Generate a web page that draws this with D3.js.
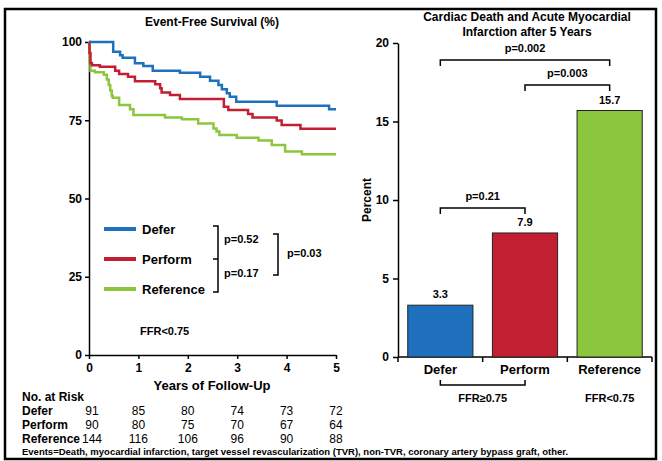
<!DOCTYPE html>
<html>
<head>
<meta charset="utf-8">
<script src="https://cdn.jsdelivr.net/npm/d3@7"></script>
<style>
  body { margin: 0; background: #fff; }
  svg { display: block; font-family: "Liberation Sans", Arial, sans-serif; }
  .axis path, .axis line { stroke: #000; stroke-width: 1.5; }
  .axis text { font-size: 12px; font-weight: bold; fill: #000; }
  .b { font-weight: bold; }
</style>
</head>
<body>
<svg width="662" height="461"></svg>
<script>
// years on the x axis of the survival chart
var years = [0, 1, 2, 3, 4, 5];

// Kaplan-Meier steps [year, % event-free]
var deferSurv = [[0,100],[0.49,96.9],[0.63,95.8],[0.68,95],[0.93,93.2],[1.1,92.3],[1.29,90.8],[1.84,90.2],[2.25,88.9],[2.45,87.6],[2.62,86.3],[2.69,84.9],[2.79,83.6],[2.85,82.5],[2.98,80.9],[3.8,79.6],[4.86,78.5],[5,78.5]];
var performSurv = [[0,100],[0.01,96.5],[0.03,93.2],[0.06,92.6],[0.22,92.1],[0.53,90.8],[0.61,89.8],[0.79,88.9],[0.93,87.5],[1.34,86.5],[1.44,85.2],[1.47,83.9],[1.64,83.1],[1.84,81.8],[2.73,79.3],[2.82,78.3],[3.22,77],[3.31,75.9],[3.8,74.9],[3.9,73.5],[4.28,72.3],[5,72.3]];
var referenceSurv = [[0,100],[0.01,93.6],[0.03,90.8],[0.12,90.3],[0.3,89.5],[0.36,88],[0.4,86.3],[0.43,84.5],[0.46,82.8],[0.48,82.2],[0.61,79.9],[0.83,78.5],[0.9,76.7],[1.54,75.9],[1.88,75.3],[2.21,74],[2.52,72.4],[2.58,71.4],[2.64,70.3],[2.99,69.4],[3.43,68.5],[3.7,67.1],[3.97,65],[4.31,64.1],[5,64.1]];

// numbers at risk
var riskLabels = ["Defer", "Perform", "Reference"];
var riskDefer = [91, 85, 80, 74, 73, 72];
var riskPerform = [90, 80, 75, 70, 67, 64];
var riskReference = [144, 116, 106, 96, 90, 88];

// bar chart
var barGroups = ["Defer", "Perform", "Reference"];
var barValues = [3.3, 7.9, 15.7];
var survTicks = [0, 25, 50, 75, 100];
var barTicks = [0, 5, 10, 15, 20];

var colors = ["#1f71bd", "#c21f32", "#8cc63f"];

var svg = d3.select("svg");

// frame
svg.append("rect")
    .attr("x", 5).attr("y", 9)
    .attr("width", 651).attr("height", 450)
    .attr("fill", "none")
    .attr("stroke", "#000")
    .attr("stroke-width", 2.5);

// ---- left: event-free survival ----
var x = d3.scaleLinear().domain([0, 5]).range([89, 336]);
var y = d3.scaleLinear().domain([0, 100]).range([355, 42]);

svg.append("text").attr("class", "b")
    .attr("x", 212).attr("y", 26)
    .attr("text-anchor", "middle")
    .style("font-size", "12px")
    .text("Event-Free Survival (%)");

svg.append("g").attr("class", "axis")
    .attr("transform", "translate(0,355)")
    .call(d3.axisBottom(x).tickValues(years).tickFormat(d3.format("d"))
      .tickSize(4).tickSizeOuter(0).tickPadding(4));

svg.append("g").attr("class", "axis")
    .attr("transform", "translate(89,0)")
    .call(d3.axisLeft(y).tickValues(survTicks).tickSize(4).tickSizeOuter(0).tickPadding(3));

svg.append("text").attr("class", "b")
    .attr("x", 212).attr("y", 390)
    .attr("text-anchor", "middle")
    .style("font-size", "13px")
    .text("Years of Follow-Up");

var line = d3.line()
    .x(function(d) { return x(d[0]); })
    .y(function(d) { return y(d[1]); })
    .curve(d3.curveStepAfter);

var curves = [referenceSurv, performSurv, deferSurv];
var curveColors = [colors[2], colors[1], colors[0]];
svg.append("g").selectAll("path")
    .data(curves)
    .enter().append("path")
    .attr("d", line)
    .attr("fill", "none")
    .attr("stroke", function(d, i) { return curveColors[i]; })
    .attr("stroke-width", 2.5);

// legend
var legY = [229, 259, 289];
var leg = svg.append("g").selectAll("g")
    .data(riskLabels)
    .enter().append("g")
    .attr("transform", function(d, i) { return "translate(104," + legY[i] + ")"; });
leg.append("line")
    .attr("x1", 0).attr("x2", 32)
    .attr("stroke", function(d, i) { return colors[i]; })
    .attr("stroke-width", 4);
leg.append("text").attr("class", "b")
    .attr("x", 38).attr("dy", "0.35em")
    .style("font-size", "13px")
    .text(function(d) { return d; });

// p-value brackets on the survival chart
var br = svg.append("g").attr("fill", "none").attr("stroke", "#000").attr("stroke-width", 1.5);
br.append("path").attr("d", "M213,226H218V292H213M213,259H218");
br.append("path").attr("d", "M273,234H278V275H273");
svg.append("text").attr("class", "b").attr("x", 224).attr("y", 243).style("font-size", "11px").text("p=0.52");
svg.append("text").attr("class", "b").attr("x", 224).attr("y", 277).style("font-size", "11px").text("p=0.17");
svg.append("text").attr("class", "b").attr("x", 287).attr("y", 257).style("font-size", "11px").text("p=0.03");
svg.append("text").attr("class", "b").attr("x", 140).attr("y", 335).style("font-size", "11px").text("FFR<0.75");

// numbers at risk
svg.append("text").attr("class", "b").attr("x", 22).attr("y", 401).style("font-size", "12px").text("No. at Risk");
var risks = [riskDefer, riskPerform, riskReference];
var rowY = [415, 429, 443];
risks.forEach(function(row, r) {
  svg.append("text").attr("class", "b")
      .attr("x", 22).attr("y", rowY[r])
      .style("font-size", "12px")
      .text(riskLabels[r]);
  svg.append("g").selectAll("text")
      .data(row)
      .enter().append("text")
      .attr("x", function(d, i) { return x(years[i]) + (i == 0 ? 3 : 0); })
      .attr("y", rowY[r])
      .attr("text-anchor", "middle")
      .style("font-size", "12px")
      .text(function(d) { return d; });
});

svg.append("text").attr("class", "b")
    .attr("x", 22).attr("y", 455)
    .style("font-size", "9.5px")
    .text("Events=Death, myocardial infarction, target vessel revascularization (TVR), non-TVR, coronary artery bypass graft, other.");

// ---- right: cardiac death and MI ----
var xb = d3.scaleBand().domain(barGroups).range([398, 652]).paddingInner(0.23).paddingOuter(0.115);
var yb = d3.scaleLinear().domain([0, 20]).range([357, 43]);

svg.append("text").attr("class", "b")
    .attr("text-anchor", "middle")
    .style("font-size", "12px")
    .selectAll("tspan")
    .data(["Cardiac Death and Acute Myocardial", "Infarction after 5 Years"])
    .enter().append("tspan")
    .attr("x", 527)
    .attr("y", function(d, i) { return 21 + i * 15; })
    .text(function(d) { return d; });

svg.append("g").attr("class", "axis")
    .attr("transform", "translate(398,0)")
    .call(d3.axisLeft(yb).tickValues(barTicks).tickSize(5).tickSizeOuter(0).tickPadding(4));

var xAxisB = svg.append("g").attr("class", "axis")
    .attr("transform", "translate(0,357)");
xAxisB.append("path").attr("d", "M398,0H652");
xAxisB.selectAll("line.t")
    .data([398, 398 + xb.step(), 398 + 2 * xb.step(), 652])
    .enter().append("line")
    .attr("x1", function(d) { return d; }).attr("x2", function(d) { return d; })
    .attr("y1", 0).attr("y2", 5);
xAxisB.selectAll("text")
    .data(barGroups)
    .enter().append("text")
    .attr("x", function(d) { return xb(d) + xb.bandwidth() / 2; })
    .attr("y", 17)
    .attr("text-anchor", "middle")
    .style("font-size", "13px")
    .text(function(d) { return d; });

svg.append("text").attr("class", "b")
    .attr("transform", "translate(371,200) rotate(-90)")
    .attr("text-anchor", "middle")
    .style("font-size", "12px")
    .text("Percent");

svg.append("g").selectAll("rect")
    .data(barValues)
    .enter().append("rect")
    .attr("x", function(d, i) { return xb(barGroups[i]); })
    .attr("y", function(d) { return yb(d); })
    .attr("width", xb.bandwidth())
    .attr("height", function(d) { return yb(0) - yb(d); })
    .attr("fill", function(d, i) { return colors[i]; })
    .attr("stroke", "#222")
    .attr("stroke-width", 1);

svg.append("g").selectAll("text")
    .data(barValues)
    .enter().append("text").attr("class", "b")
    .attr("x", function(d, i) { return xb(barGroups[i]) + xb.bandwidth() / 2; })
    .attr("y", function(d) { return yb(d) - 7; })
    .attr("text-anchor", "middle")
    .style("font-size", "11px")
    .text(function(d) { return d.toFixed(1); });

function mid(g) { return xb(g) + xb.bandwidth() / 2; }

// comparison brackets
var comps = [
  { a: "Defer", b: "Reference", y: 60, p: "p=0.002" },
  { a: "Perform", b: "Reference", y: 85, p: "p=0.003" },
  { a: "Defer", b: "Perform", y: 208, p: "p=0.21" }
];
var cg = svg.append("g");
comps.forEach(function(c) {
  cg.append("path")
      .attr("d", "M" + mid(c.a) + "," + (c.y + 6) + "V" + c.y + "H" + mid(c.b) + "V" + (c.y + 6))
      .attr("fill", "none").attr("stroke", "#000").attr("stroke-width", 1.5);
  cg.append("text").attr("class", "b")
      .attr("x", (mid(c.a) + mid(c.b)) / 2).attr("y", c.y - 8)
      .attr("text-anchor", "middle")
      .style("font-size", "11px")
      .text(c.p);
});

// FFR groups under the bars
svg.append("path")
    .attr("d", "M" + mid("Defer") + ",380V385H" + mid("Perform") + "V380")
    .attr("fill", "none").attr("stroke", "#000").attr("stroke-width", 1.5);
svg.append("text").attr("class", "b")
    .attr("x", (mid("Defer") + mid("Perform")) / 2).attr("y", 402)
    .attr("text-anchor", "middle").style("font-size", "11px")
    .text("FFR≥0.75");
svg.append("text").attr("class", "b")
    .attr("x", mid("Reference")).attr("y", 402)
    .attr("text-anchor", "middle").style("font-size", "11px")
    .text("FFR<0.75");
</script>
</body>
</html>
